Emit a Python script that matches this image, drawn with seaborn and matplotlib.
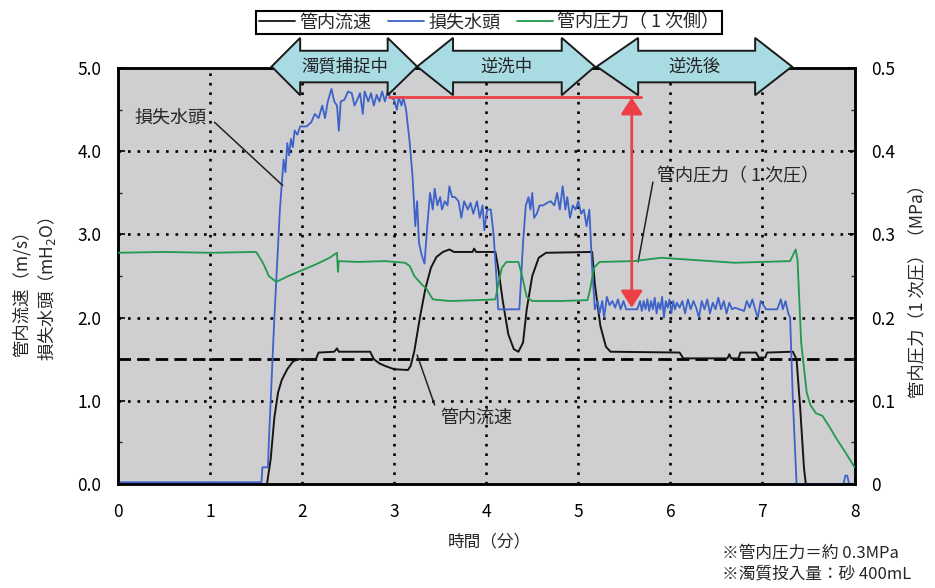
import numpy as np
import pandas as pd
import matplotlib
matplotlib.use('Agg')
import matplotlib.pyplot as plt
from matplotlib.patches import Polygon
from matplotlib.lines import Line2D
import seaborn as sns

# データ
t_flow = [0.0, 1.62, 1.66, 1.70, 1.74, 1.78, 1.84, 1.90, 1.95, 2.15, 2.18, 2.35, 2.38, 2.40,
          2.74, 2.78, 2.84, 2.90, 2.95, 3.00, 3.15, 3.18, 3.22, 3.28, 3.34, 3.40, 3.46, 3.53,
          3.60, 3.65, 3.85, 3.87, 3.89, 4.10, 4.13, 4.18, 4.24, 4.30, 4.35, 4.40, 4.44, 4.50,
          4.57, 4.65, 5.15, 5.18, 5.24, 5.30, 5.35, 6.10, 6.14, 6.62, 6.64, 6.66, 6.74, 6.76,
          6.93, 6.96, 7.03, 7.05, 7.33, 7.37, 7.41, 7.45, 7.47, 8.0]
flow = [0.0, 0.0, 0.3, 0.8, 1.1, 1.25, 1.38, 1.47, 1.5, 1.5, 1.58, 1.59, 1.63, 1.59,
        1.59, 1.5, 1.45, 1.42, 1.40, 1.38, 1.37, 1.42, 1.6, 2.0, 2.35, 2.6, 2.73, 2.79,
        2.82, 2.79, 2.79, 2.83, 2.79, 2.79, 2.6, 2.2, 1.8, 1.62, 1.59, 1.7, 2.1, 2.5,
        2.72, 2.78, 2.79, 2.4, 1.9, 1.65, 1.59, 1.58, 1.51, 1.51, 1.56, 1.51, 1.51, 1.58,
        1.58, 1.52, 1.52, 1.58, 1.59, 1.5, 0.9, 0.2, 0.0, 0.0]

t_head = [0.0, 0.8, 1.56, 1.57, 1.63, 1.64, 1.70, 1.76, 1.80, 1.82, 1.84, 1.86, 1.88, 1.90,
          1.92, 1.95, 1.98, 2.05, 2.10, 2.14, 2.18, 2.22, 2.25, 2.28, 2.32, 2.35, 2.38, 2.40,
          2.42, 2.46, 2.50, 2.54, 2.57, 2.60, 2.63, 2.66, 2.68, 2.72, 2.75, 2.78, 2.81, 2.84,
          2.87, 2.90, 2.93, 2.96, 3.00, 3.03, 3.05, 3.08, 3.10, 3.13, 3.17, 3.20, 3.23, 3.25,
          3.27, 3.30, 3.33, 3.36, 3.39, 3.42, 3.44, 3.47, 3.50, 3.52, 3.55, 3.58, 3.60, 3.63,
          3.66, 3.70, 3.73, 3.76, 3.80, 3.83, 3.86, 3.90, 3.93, 3.96, 3.98, 4.01, 4.05, 4.08,
          4.11, 4.13, 4.36, 4.40, 4.43, 4.46, 4.48, 4.50, 4.52, 4.55, 4.58, 4.62, 4.66, 4.70,
          4.74, 4.77, 4.80, 4.83, 4.86, 4.88, 4.91, 4.94, 4.97, 5.00, 5.03, 5.06, 5.09, 5.12,
          5.15, 5.18, 5.21, 5.23, 5.26, 5.28, 5.31, 5.34, 5.37, 5.40, 5.43, 5.46, 5.49, 5.52,
          5.55, 5.58, 5.61, 5.64, 5.67, 5.69, 5.71, 5.73, 5.75, 5.77, 5.79, 5.81, 5.83, 5.85,
          5.87, 5.89, 5.91, 5.93, 5.95, 5.97, 5.99, 6.01, 6.03, 6.05, 6.07, 6.10, 6.13, 6.16,
          6.19, 6.22, 6.25, 6.28, 6.31, 6.34, 6.37, 6.40, 6.43, 6.46, 6.49, 6.52, 6.55, 6.58,
          6.61, 6.64, 6.67, 6.70, 6.75, 6.80, 6.83, 6.86, 6.89, 6.92, 6.95, 6.98, 7.01, 7.04,
          7.08, 7.12, 7.16, 7.20, 7.22, 7.25, 7.28, 7.30, 7.33, 7.37, 7.88, 7.90, 7.92, 7.94, 8.0]
head = [0.02, 0.02, 0.02, 0.2, 0.2, 0.5, 2.0, 3.3, 3.9, 3.75, 4.1, 3.95, 4.15, 4.05,
        4.25, 4.2, 4.3, 4.3, 4.35, 4.45, 4.4, 4.55, 4.4, 4.6, 4.75, 4.6, 4.55, 4.25,
        4.6, 4.62, 4.72, 4.7, 4.55, 4.62, 4.7, 4.45, 4.72, 4.6, 4.7, 4.55, 4.68, 4.6,
        4.72, 4.6, 4.72, 4.65, 4.62, 4.5, 4.65, 4.55, 4.65, 4.5, 4.1, 3.7, 3.1, 3.4,
        2.9, 2.75, 2.65, 3.1, 3.5, 3.3, 3.55, 3.35, 3.45, 3.3, 3.4, 3.35, 3.58, 3.45,
        3.45, 3.4, 3.2, 3.4, 3.3, 3.38, 3.25, 3.4, 3.2, 3.35, 3.05, 3.3, 3.3, 3.0,
        2.5, 2.1, 2.1, 2.9, 3.35, 3.45, 3.3, 3.5, 3.2, 3.25, 3.35, 3.35, 3.38, 3.4,
        3.35, 3.5, 3.3, 3.58, 3.3, 3.45, 3.2, 3.35, 3.3, 3.4, 3.25, 3.3, 3.1, 3.3,
        2.6, 2.1, 2.2, 2.05, 2.2, 2.0, 2.25, 2.15, 2.2, 2.12, 2.22, 2.1, 2.2, 2.1,
        2.1, 2.1, 2.1, 2.1, 2.2, 2.08, 2.2, 2.1, 2.22, 2.08, 2.2, 2.1, 2.24, 2.05,
        2.18, 2.1, 2.25, 2.0, 2.2, 2.12, 2.22, 2.05, 2.2, 2.1, 2.18, 2.12, 2.2, 2.05,
        2.22, 2.1, 2.2, 2.12, 2.0, 2.2, 2.1, 2.22, 2.05, 2.18, 2.1, 2.24, 2.1, 2.2,
        2.05, 2.18, 2.1, 2.12, 2.1, 2.08, 2.2, 2.12, 2.22, 2.1, 2.0, 2.2, 2.15, 2.1,
        2.1, 2.1, 2.1, 2.22, 2.1, 2.2, 2.05, 2.0, 1.0, 0.0, 0.0, 0.1, 0.1, 0.0, 0.0]

t_pres = [0.0, 0.5, 1.0, 1.5, 1.52, 1.58, 1.64, 1.72, 1.85, 2.0, 2.15, 2.3, 2.38, 2.39,
          2.40, 2.6, 2.9, 3.12, 3.17, 3.22, 3.3, 3.35, 3.42, 3.6, 3.9, 4.1, 4.13, 4.17,
          4.22, 4.35, 4.39, 4.44, 4.5, 4.8, 5.1, 5.13, 5.17, 5.23, 5.6, 5.9, 6.3, 6.7,
          7.0, 7.3, 7.36, 7.38, 7.42, 7.48, 7.52, 7.58, 7.65, 7.72, 7.8, 7.9, 8.0]
pres = [0.278, 0.279, 0.278, 0.279, 0.276, 0.265, 0.25, 0.243, 0.25, 0.257, 0.264, 0.272, 0.278, 0.255,
        0.268, 0.267, 0.268, 0.266, 0.262, 0.25, 0.24, 0.235, 0.222, 0.22, 0.221, 0.222, 0.24, 0.26,
        0.267, 0.267, 0.25, 0.225, 0.22, 0.22, 0.221, 0.235, 0.26, 0.267, 0.268, 0.272, 0.269, 0.266,
        0.267, 0.268, 0.282, 0.27, 0.17, 0.11, 0.095, 0.085, 0.082, 0.07, 0.055, 0.038, 0.02]

phases = ['濁質捕捉中', '逆洗中', '逆洗後']
phase_edges = [(1.67, 1.98, 2.93, 3.25), (3.25, 3.64, 4.82, 5.18), (5.20, 5.65, 6.92, 7.32)]

df_flow = pd.DataFrame({'t': t_flow, 'v': flow})
df_head = pd.DataFrame({'t': t_head, 'v': head})
df_pres = pd.DataFrame({'t': t_pres, 'v': pres})

sns.set_theme(style='white')
plt.rcParams['font.family'] = ['Noto Sans CJK JP', 'DejaVu Sans']
plt.rcParams['font.size'] = 12
plt.rcParams['mathtext.fontset'] = 'dejavusans'

c_black = '#151515'
c_blue = '#3d63c9'
c_green = '#21994e'
c_red = '#ec3f46'
c_gray = '#cfcfd1'

fig = plt.figure(figsize=(9.35, 5.88), dpi=100)
ax = fig.add_axes([0.126, 0.177, 0.788, 0.707])
ax.set_facecolor(c_gray)
ax2 = ax.twinx()

ax.set_xlim(0, 8)
ax.set_ylim(0, 5)
ax2.set_ylim(0, 0.5)

# グリッド
for xv in range(1, 8):
    ax.axvline(xv, color='black', lw=1.9, ls=(0, (1.0, 2.6)), zorder=1)
for yv in range(1, 5):
    ax.axhline(yv, color='black', lw=1.9, ls=(0, (1.0, 2.6)), zorder=1)
ax.axhline(1.5, color='black', lw=2.0, ls=(0, (4.5, 2.2)), zorder=1.5)

sns.lineplot(data=df_flow, x='t', y='v', ax=ax, color=c_black, lw=1.4, estimator=None, zorder=3)
sns.lineplot(data=df_head, x='t', y='v', ax=ax, color=c_blue, lw=1.3, estimator=None, zorder=3)
sns.lineplot(data=df_pres, x='t', y='v', ax=ax2, color=c_green, lw=1.3, estimator=None, zorder=3)

ax.set_xlabel('')
ax.set_ylabel('')
ax2.set_ylabel('')

ax.set_xticks(range(0, 9))
ax.set_yticks(np.arange(0, 5.01, 1.0))
ax.set_yticks(np.arange(0.5, 5, 1.0), minor=True)
ax.set_yticklabels(['0.0', '1.0', '2.0', '3.0', '4.0', '5.0'])
ax2.set_yticks(np.arange(0, 0.51, 0.1))
ax2.set_yticks(np.arange(0.05, 0.5, 0.1), minor=True)
ax2.set_yticklabels(['0', '0.1', '0.2', '0.3', '0.4', '0.5'])
ax.tick_params(axis='both', which='major', direction='in', length=5, width=1.2,
               labelsize=12.5, colors='black', pad=12)
ax.tick_params(axis='y', which='minor', direction='in', length=3, width=1.0, left=True)
ax.tick_params(axis='x', which='major', pad=14)
ax2.tick_params(axis='y', which='major', direction='in', length=5, width=1.2,
                labelsize=12.5, colors='black', pad=12)
ax2.tick_params(axis='y', which='minor', direction='in', length=3, width=1.0, right=True)

for a in (ax, ax2):
    for s in a.spines.values():
        s.set_color('black')
        s.set_linewidth(1.8)

# 工程の矢印
yc, hh, bh = 5.02, 0.345, 0.19
for name, (x0, x1, x2, x3) in zip(phases, phase_edges):
    pts = [(x0, yc), (x1, yc + hh), (x1, yc + bh), (x2, yc + bh), (x2, yc + hh), (x3, yc),
           (x2, yc - hh), (x2, yc - bh), (x1, yc - bh), (x1, yc - hh)]
    ax2.add_patch(Polygon(pts, closed=True, facecolor='#a9dbe3', edgecolor='#1a1a1a', lw=1.4,
                          transform=ax.transData, clip_on=False, zorder=6))
    ax2.text((x0 + x3) / 2, yc, name, transform=ax.transData, ha='center', va='center',
             fontsize=12.5, color='#222222', zorder=7)

# 赤い矢印
ax2.plot([2.95, 5.68], [4.65, 4.65], color=c_red, lw=2.0, transform=ax.transData, zorder=5)
ax2.annotate('', xy=(5.58, 2.12), xytext=(5.58, 4.65), xycoords=ax.transData,
             textcoords=ax.transData,
             arrowprops=dict(arrowstyle='<|-|>,head_length=0.85,head_width=0.55',
                             mutation_scale=12, color=c_red, lw=2.0, shrinkA=0, shrinkB=0),
             zorder=5)

# 注記
ax2.text(0.18, 4.41, '損失水頭', transform=ax.transData, ha='left', va='center', fontsize=13)
ax2.plot([1.05, 1.79], [4.35, 3.59], color='#222222', lw=1.1, transform=ax.transData)
ax2.text(3.50, 0.79, '管内流速', transform=ax.transData, ha='left', va='center', fontsize=13)
ax2.plot([3.44, 3.25], [0.95, 1.55], color='#222222', lw=1.1, transform=ax.transData)
ax2.text(5.85, 3.70, '管内圧力（ 1 次圧）', transform=ax.transData, ha='left', va='center', fontsize=13)
ax2.plot([5.81, 5.65], [3.63, 2.67], color='#222222', lw=1.1, transform=ax.transData)

# 軸ラベル
fig.text(0.523, 0.078, '時間（分）', ha='center', va='center', fontsize=12)
fig.text(22 / 935, 0.508, '管内流速（m/s）', rotation=90, ha='center', va='center', fontsize=12.5)
fig.text(47 / 935, 0.508, '損失水頭（mH$_2$O）', rotation=90, ha='center', va='center', fontsize=12.5)
fig.text(917 / 935, 0.512, '管内圧力（1 次圧）（MPa）', rotation=90, ha='center', va='center', fontsize=12.5)

fig.text(722 / 935, 1 - 553 / 588, '※管内圧力＝約 0.3MPa', ha='left', va='center', fontsize=12)
fig.text(722 / 935, 1 - 574 / 588, '※濁質投入量：砂 400mL', ha='left', va='center', fontsize=12)

# 凡例
handles = [Line2D([], [], color=c_black, lw=1.3), Line2D([], [], color=c_blue, lw=1.3),
           Line2D([], [], color=c_green, lw=1.3)]
labels = ['管内流速', '損失水頭', '管内圧力（ 1 次側）']
leg = fig.legend(handles, labels, loc='center', bbox_to_anchor=(0.523, 0.962), ncol=3,
                 frameon=True, fancybox=False, edgecolor='black', fontsize=13,
                 handlelength=2.0, handletextpad=0.25, columnspacing=0.9, borderpad=0.15,
                 borderaxespad=0, framealpha=1)
leg.get_frame().set_linewidth(1.5)

fig.savefig('out.png', dpi=100)
